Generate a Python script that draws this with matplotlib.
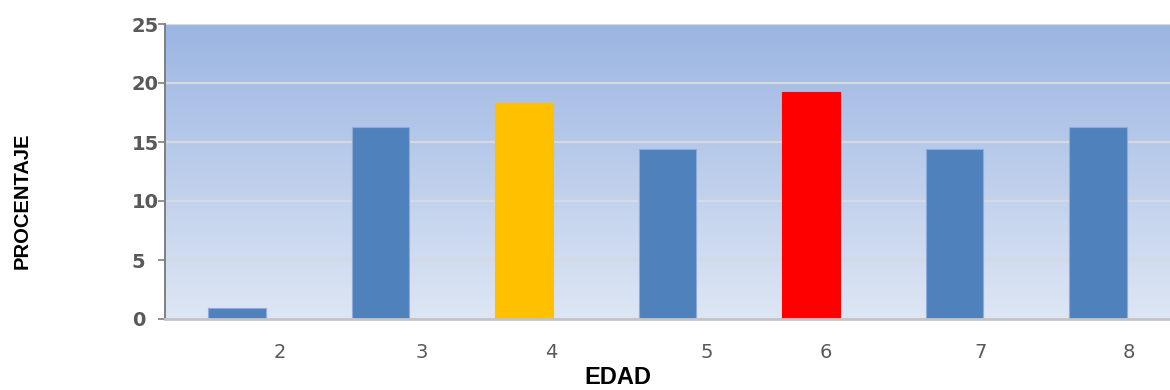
import matplotlib.pyplot as plt
import numpy as np

edades = ["2", "3", "4", "5", "6", "7", "8"]
porcentajes = [0.9, 16.3, 18.3, 14.4, 19.2, 14.4, 16.3]
colores = ["#4F81BD", "#4F81BD", "#FFC000", "#4F81BD", "#FF0000", "#4F81BD", "#4F81BD"]

# the age labels sit to the right of each bar, not quite evenly
label_shift = [0.30, 0.29, 0.19, 0.27, 0.10, 0.18, 0.21]

fig = plt.figure(figsize=(11.7, 3.9), dpi=100)
ax = fig.add_axes([165 / 1170, 1 - 319 / 390, 1 - 165 / 1170, 295 / 390])

x = np.arange(len(edades))
ax.set_xlim(-0.5, 6.5)
ax.set_ylim(0, 25)

# vertical blue gradient behind the bars
top = np.array([0x9B, 0xB5, 0xE2]) / 255
bottom = np.array([0xDE, 0xE6, 0xF4]) / 255
t = np.linspace(0, 1, 256)[:, None]
grad = (top * (1 - t) + bottom * t)[:, None, :]
ax.imshow(grad, extent=(-0.5, 6.5, 0, 25), aspect="auto", zorder=0)

for yv in range(5, 26, 5):
    ax.axhline(yv, color="#D6D9DE", lw=1.6, zorder=1)

ax.bar(x, porcentajes, width=0.40, color=colores, edgecolor=[
    "#8FAADC" if c == "#4F81BD" else c for c in colores], linewidth=0.8, zorder=2)

ax.set_xticks(x + np.array(label_shift))
ax.set_xticklabels(edades, fontsize=14, color="#595959")
ax.tick_params(axis="x", length=0, pad=17)

ax.set_yticks(range(0, 26, 5))
ax.set_yticklabels([str(v) for v in range(0, 26, 5)], fontsize=14,
                   fontweight="bold", color="#595959", ha="left")
ax.tick_params(axis="y", length=5, width=1.2, color="#7F7F7F", pad=19)

for side in ("top", "right"):
    ax.spines[side].set_visible(False)
ax.spines["left"].set_color("#7F7F7F")
ax.spines["left"].set_linewidth(1.4)
ax.spines["bottom"].set_color("#C4C4C8")
ax.spines["bottom"].set_linewidth(2)

fig.text(22 / 1170, 1 - 201 / 390, "PROCENTAJE", rotation=90, ha="center",
         va="center", fontsize=14.5, fontweight="bold", family="Liberation Sans")
fig.text(618 / 1170, 1 - 366 / 390, "EDAD", ha="center", va="top",
         fontsize=17, fontweight="bold", family="Liberation Sans")

plt.savefig("out.png", dpi=100)
plt.close()
